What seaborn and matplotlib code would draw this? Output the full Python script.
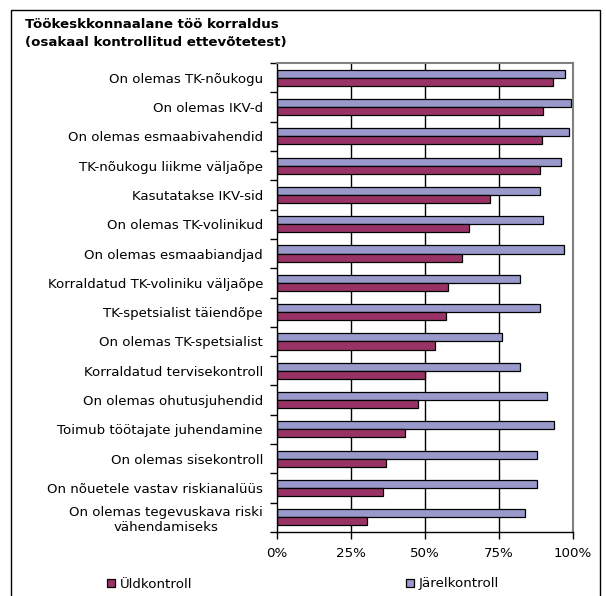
import pandas as pd
import seaborn as sns
import matplotlib.pyplot as plt
from matplotlib.lines import Line2D
from matplotlib.patches import Patch

categories = [
    "On olemas TK-nõukogu",
    "On olemas IKV-d",
    "On olemas esmaabivahendid",
    "TK-nõukogu liikme väljaõpe",
    "Kasutatakse IKV-sid",
    "On olemas TK-volinikud",
    "On olemas esmaabiandjad",
    "Korraldatud TK-voliniku väljaõpe",
    "TK-spetsialist täiendõpe",
    "On olemas TK-spetsialist",
    "Korraldatud tervisekontroll",
    "On olemas ohutusjuhendid",
    "Toimub töötajate juhendamine",
    "On olemas sisekontroll",
    "On nõuetele vastav riskianalüüs",
    "On olemas tegevuskava riski\nvähendamiseks",
]
uldkontroll = [93.2, 89.8, 89.5, 89.0, 72.0, 65.0, 62.6, 57.9, 57.0, 53.3,
               50.1, 47.7, 43.3, 36.8, 35.7, 30.4]
jarelkontroll = [97.3, 99.3, 98.8, 96.0, 89.0, 89.9, 96.8, 82.2, 89.0, 76.1,
                 82.2, 91.1, 93.6, 87.8, 87.8, 83.9]
series = ["Üldkontroll", "Järelkontroll"]
x_ticks = [0, 25, 50, 75, 100]
x_labels = ["0%", "25%", "50%", "75%", "100%"]
title = "Töökeskkonnaalane töö korraldus\n(osakaal kontrollitud ettevõtetest)"

colors = {"Üldkontroll": "#993366", "Järelkontroll": "#9999CC"}

df = pd.DataFrame({
    "kategooria": categories * 2,
    "osakaal": uldkontroll + jarelkontroll,
    "kontroll": [series[0]] * len(categories) + [series[1]] * len(categories),
})

sns.set_style("white")
plt.rcParams["font.family"] = ["DejaVu Sans"]
plt.rcParams["font.size"] = 9.6
plt.rcParams["text.color"] = "black"
plt.rcParams["xtick.labelcolor"] = "black"
plt.rcParams["ytick.labelcolor"] = "black"

fig = plt.figure(figsize=(6.06, 5.96), dpi=100)
ax = fig.add_axes([277 / 606, 1 - 532 / 596, 296 / 606, 469 / 596])

sns.barplot(data=df, x="osakaal", y="kategooria", hue="kontroll",
            hue_order=["Järelkontroll", "Üldkontroll"], order=categories,
            palette=colors, saturation=1, width=0.55, edgecolor="black",
            linewidth=0.9, legend=False, ax=ax)

ax.set_xlim(0, 100)
ax.set_ylim(len(categories) - 0.5, -0.5)
ax.set_xticks(x_ticks)
ax.set_xticklabels(x_labels)
ax.set_xlabel("")
ax.set_ylabel("")

# vertical gridlines
for t in x_ticks[1:-1]:
    ax.axvline(t, color="black", lw=1, zorder=0)

# ticks between categories on the left
ax.set_yticks([i + 0.5 for i in range(-1, len(categories))], minor=True)
ax.tick_params(axis="y", which="minor", left=True, direction="out",
               length=5, width=1, color="black")
ax.tick_params(axis="y", which="major", left=False, length=0, pad=10,
               labelcolor="black")
for lab in ax.get_yticklabels():
    lab.set_multialignment("center")
ax.tick_params(axis="x", bottom=True, direction="out", length=5, width=1,
               color="black", pad=6, labelcolor="black")

for side in ["left", "bottom"]:
    ax.spines[side].set_color("black")
    ax.spines[side].set_linewidth(1)
for side in ["top", "right"]:
    ax.spines[side].set_visible(True)
    ax.spines[side].set_color("#808080")
    ax.spines[side].set_linewidth(1.5)

fig.text(25 / 606, 1 - 18 / 596, title, ha="left", va="top", color="black",
         fontweight="bold", fontsize=9.6, linespacing=1.5)

handles = [Patch(facecolor=colors[s], edgecolor="black", linewidth=0.9) for s in series]
fig.legend(handles, series, loc="center", bbox_to_anchor=(0.50, 1 - 584 / 596),
           ncol=2, frameon=False, handlelength=0.6, handleheight=0.6,
           handletextpad=0.35, columnspacing=16, fontsize=9.6, labelcolor="black")

# outer frame
fx = [11 / 606, 11 / 606, 600 / 606, 600 / 606]
fy = [0, 1 - 10 / 596, 1 - 10 / 596, 0]
fig.add_artist(Line2D(fx, fy, color="black", lw=1, transform=fig.transFigure))

fig.savefig("out.png", dpi=100)
